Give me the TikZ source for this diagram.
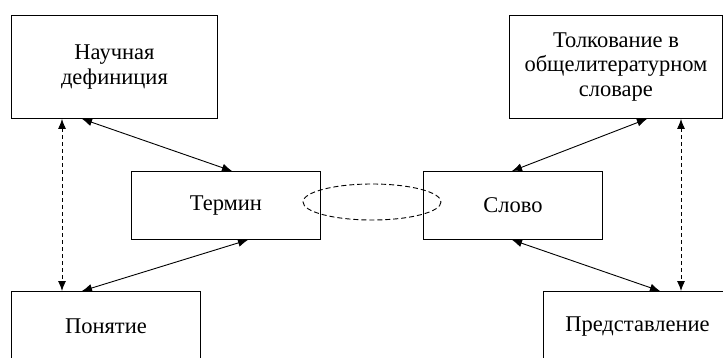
\documentclass[tikz,border=0pt]{standalone}
\usepackage{fontspec}
\setmainfont{Liberation Serif}
\usetikzlibrary{arrows.meta}
\begin{document}
\begin{tikzpicture}[x=1pt,y=-1pt,
  box/.style={draw, line width=0.9pt, inner sep=0pt, anchor=north west, align=center, font=\fontsize{22.5}{24.5}\selectfont},
  link/.style={line width=0.9pt, {Latex[length=10pt,width=8pt]}-{Latex[length=10pt,width=8pt]}},
  dlink/.style={link, dash pattern=on 4pt off 3pt}]
  \useasboundingbox (0,0) rectangle (723,358);
  \begin{scope}
    \clip (0,0) rectangle (723,358);
    % top row
    \node[box, minimum width=206pt, minimum height=103pt] (def) at (11,15) {Научная\\дефиниция};
    \node[box, minimum width=213pt, minimum height=103pt] (tolk) at (509,15) {Толкование в\\общелитературном\\словаре};
    % middle row
    \node[box, minimum width=189pt, minimum height=68pt] (term) at (131,171) {Термин};
    \node[box, minimum width=179pt, minimum height=68pt] (slovo) at (423,171) {Слово};
    % bottom row, running past the lower edge
    \node[box, minimum width=189pt, minimum height=70pt] (pon) at (11,291) {Понятие};
    \node[box, minimum width=188pt, minimum height=70pt] (pred) at (543,291) {Представление};
  \end{scope}
  % dashed link between the two middle boxes
  \draw[line width=0.9pt, dash pattern=on 5pt off 3pt] (372,202) ellipse [x radius=69, y radius=18];
  % connectors
  \draw[link] (def.south west -| 82,0) -- (term.north west -| 232,0);
  \draw[link] (term.south west -| 248,0) -- (pon.north west -| 82,0);
  \draw[dlink] (def.south west -| 62,0) -- (pon.north west -| 62,0);
  \draw[link] (tolk.south west -| 647,0) -- (slovo.north west -| 512,0);
  \draw[link] (slovo.south west -| 512,0) -- (pred.north west -| 660,0);
  \draw[dlink] (tolk.south west -| 681,0) -- (pred.north west -| 681,0);
\end{tikzpicture}
\end{document}
